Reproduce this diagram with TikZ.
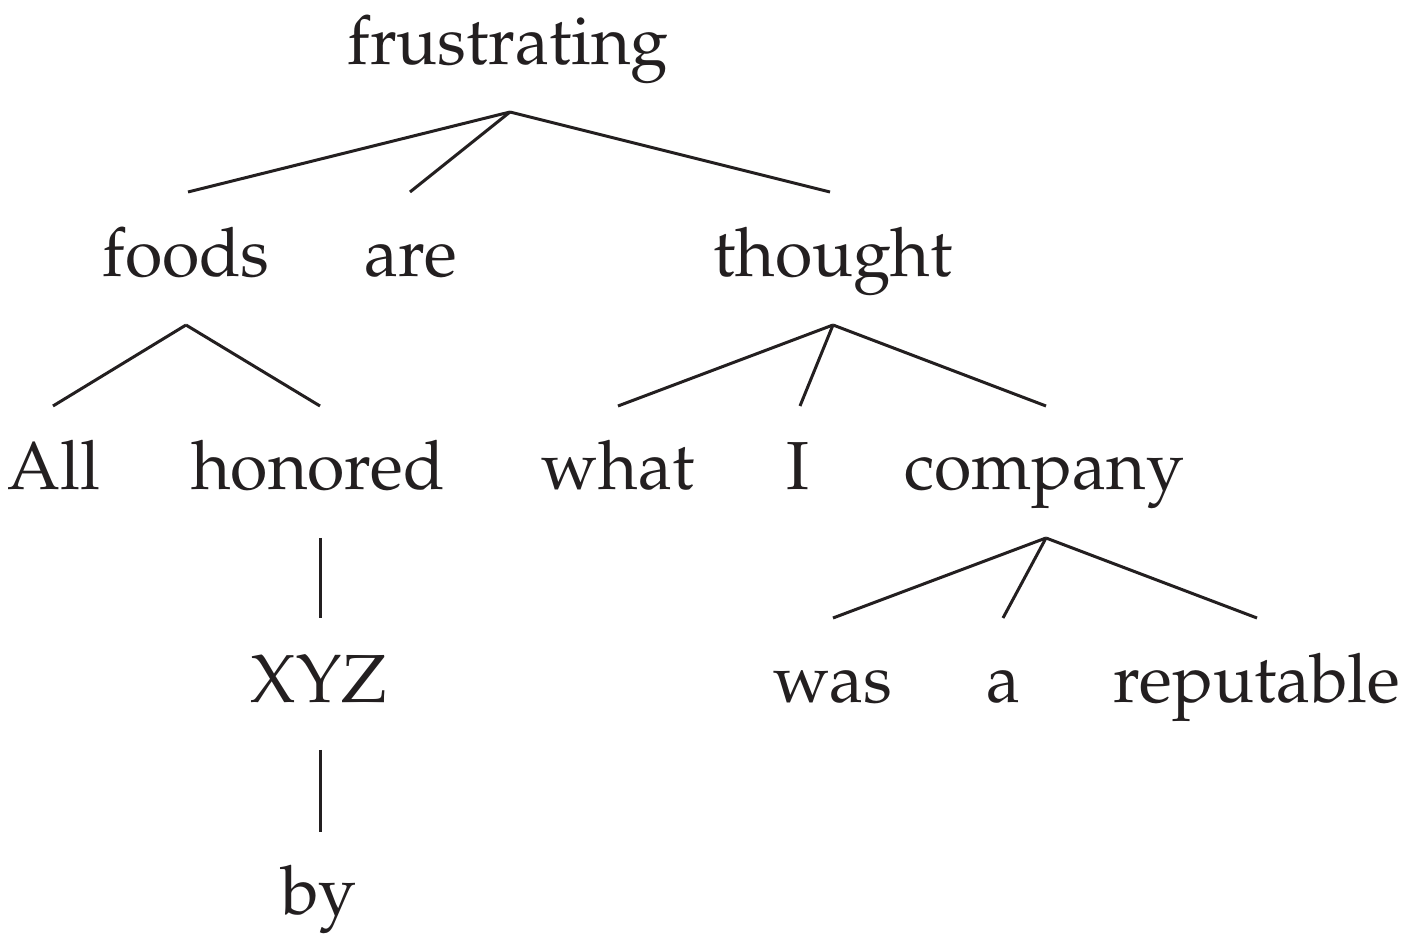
\documentclass[tikz,border=0pt]{standalone}
\usepackage[T1]{fontenc}
\usepackage{mathpazo}
\definecolor{ink}{HTML}{231F20}
\begin{document}
\begin{tikzpicture}[x=0.5pt,y=-0.5pt,
  word/.style={anchor=base,inner sep=0pt,font=\fontsize{34}{40}\selectfont,text=ink},
  edge/.style={line width=1.5pt,ink}]
\useasboundingbox (0,0) rectangle (1410,951);
\node[word] (frustrating) at (508,65) {frustrating};
\node[word] (foods) at (186,277) {foods};
\node[word] (are) at (411,277) {are};
\node[word] (thought) at (833,277) {thought};
\node[word] (All) at (54,490) {All};
\node[word] (honored) at (318,490) {honored};
\node[word] (what) at (618,490) {what};
\node[word] (I) at (798,490) {I};
\node[word] (company) at (1044,490) {company};
\node[word] (XYZ) at (319,703) {XYZ};
\node[word] (was) at (833,703) {was};
\node[word] (a) at (1003,703) {a};
\node[word] (reputable) at (1257,703) {reputable};
\node[word] (by) at (319,915) {by};
% attachment points
\coordinate (frustrating-d) at (510,112);
\coordinate (foods-u) at (188,192);
\coordinate (are-u) at (410,192);
\coordinate (thought-u) at (830,192);
\coordinate (foods-d) at (186,325);
\coordinate (All-u) at (53,406);
\coordinate (honored-u) at (320,406);
\coordinate (thought-d) at (833,325);
\coordinate (what-u) at (618,406);
\coordinate (I-u) at (800,406);
\coordinate (company-u) at (1046,406);
\coordinate (honored-d) at (320,538);
\coordinate (XYZ-u) at (320,618);
\coordinate (XYZ-d) at (320,750);
\coordinate (by-u) at (320,832);
\coordinate (company-d) at (1046,538);
\coordinate (was-u) at (833,618);
\coordinate (a-u) at (1003,618);
\coordinate (reputable-u) at (1257,618);
\draw[edge] (frustrating-d) -- (foods-u);
\draw[edge] (frustrating-d) -- (are-u);
\draw[edge] (frustrating-d) -- (thought-u);
\draw[edge] (foods-d) -- (All-u);
\draw[edge] (foods-d) -- (honored-u);
\draw[edge] (thought-d) -- (what-u);
\draw[edge] (thought-d) -- (I-u);
\draw[edge] (thought-d) -- (company-u);
\draw[edge] (honored-d) -- (XYZ-u);
\draw[edge] (XYZ-d) -- (by-u);
\draw[edge] (company-d) -- (was-u);
\draw[edge] (company-d) -- (a-u);
\draw[edge] (company-d) -- (reputable-u);
\end{tikzpicture}
\end{document}
